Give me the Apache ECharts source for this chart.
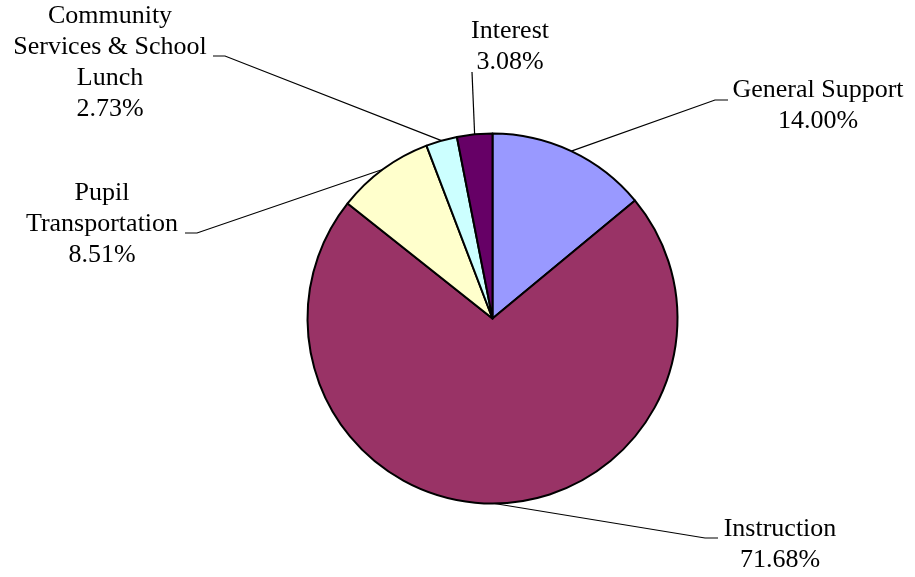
<!DOCTYPE html>
<html>
<head>
<meta charset="utf-8">
<script src="https://cdn.jsdelivr.net/npm/echarts@6/dist/echarts.min.js"></script>
<style>
  html, body { margin: 0; padding: 0; background: #fff; }
  #root { width: 915px; height: 577px; }
</style>
</head>
<body>
<div id="root"></div>
<script>
// data (percent of total expenditures)
const categories = ['General Support', 'Instruction', 'Pupil Transportation', 'Community Services & School Lunch', 'Interest']
const values = [14.00, 71.68, 8.51, 2.73, 3.08]
const colors = ['#9999FF', '#993366', '#FFFFCC', '#CCFFFF', '#660066']

// how each label is wrapped
const wrapped = {
  'Pupil Transportation': 'Pupil\nTransportation',
  'Community Services & School Lunch': 'Community\nServices & School\nLunch'
}

// label block centre + leader elbow, in pixels
const labelSpots = [
  { x: 818, y: 106, lineY: 100, lineX: [715, 728] },
  { x: 780, y: 545, lineY: 538, lineX: [705, 718] },
  { x: 102, y: 224, lineY: 233, lineX: [197, 185] },
  { x: 110, y: 63, lineY: 56, lineX: [225, 213] },
  { x: 510, y: 47, lineY: 72, lineX: [472, 472] }
]

const chart = echarts.init(document.getElementById('root'))

const option = {
  animation: false,
  series: [{
    type: 'pie',
    center: [492.5, 318.5],
    radius: 185,
    startAngle: 90,
    clockwise: true,
    avoidLabelOverlap: false,
    emphasis: { disabled: true },
    data: categories.map((name, i) => ({
      name: name,
      value: values[i],
      itemStyle: { color: colors[i] }
    })),
    itemStyle: { borderColor: '#000', borderWidth: 2 },
    label: {
      show: true,
      position: 'outside',
      fontFamily: 'Liberation Serif',
      fontSize: 26,
      lineHeight: 31,
      color: '#000',
      align: 'center',
      formatter: p => (wrapped[p.name] || p.name) + '\n' + p.value.toFixed(2) + '%'
    },
    labelLine: {
      show: true,
      length: 20,
      length2: 10,
      lineStyle: { color: '#000', width: 1.2 }
    },
    labelLayout: function (params) {
      const s = labelSpots[params.dataIndex]
      const pts = params.labelLinePoints
      const start = pts ? pts[0] : [s.lineX[0], s.lineY]
      return {
        x: s.x,
        y: s.y,
        align: 'center',
        verticalAlign: 'middle',
        labelLinePoints: [start, [s.lineX[0], s.lineY], [s.lineX[1], s.lineY]]
      }
    }
  }]
}
chart.setOption(option)
</script>
</body>
</html>
